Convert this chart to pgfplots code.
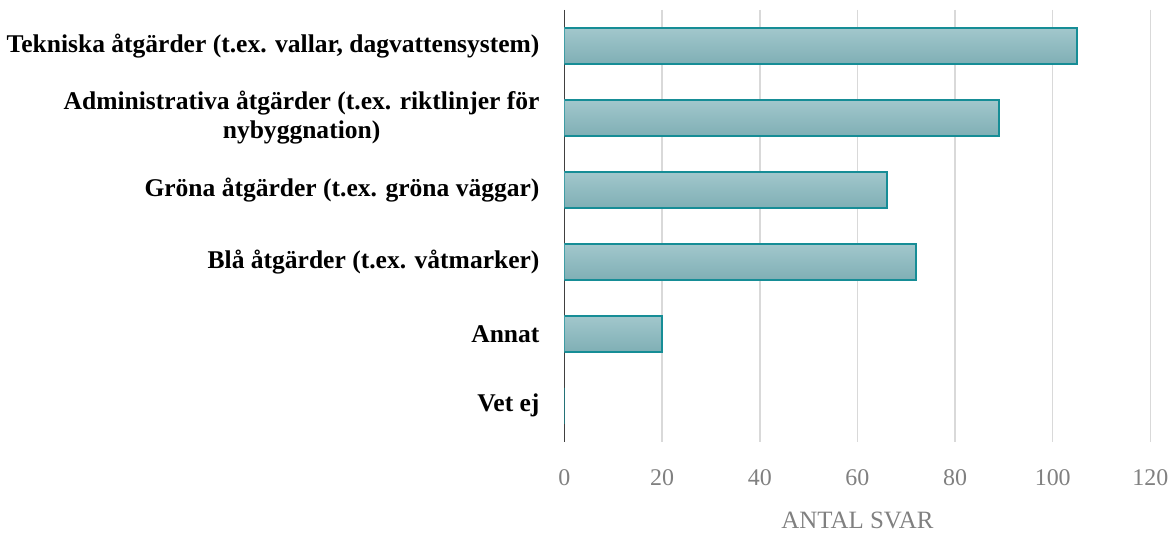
\documentclass[border=0pt]{standalone}
\usepackage{fontspec}
\setmainfont{Liberation Serif}
\usepackage{pgfplots}
\pgfplotsset{compat=1.18}
\usetikzlibrary{calc}

\definecolor{barTop}{HTML}{A2C7CC}
\definecolor{barBot}{HTML}{7FAFB5}
\definecolor{barEdge}{HTML}{168D96}
\definecolor{gridGray}{HTML}{D9D9D9}
\definecolor{tickGray}{HTML}{808080}

\pgfplotsset{tealbar/.style={xbar, bar width=0.5, bar shift=0pt, draw=barEdge,
    line width=0.8pt, top color=barTop, bottom color=barBot}}

\begin{document}
\begin{tikzpicture}
\begin{axis}[
    scale only axis,
    width=293.75pt, height=216.5pt,
    xmin=0, xmax=120,
    ymin=-0.5, ymax=5.5,
    y dir=reverse,
    xtick={0,20,...,120},
    ytick={0,...,5},
    yticklabels={
        {Tekniska åtgärder (t.ex. vallar, dagvattensystem)},
        {Administrativa åtgärder (t.ex. riktlinjer för\\nybyggnation)},
        {Gröna åtgärder (t.ex. gröna väggar)},
        {Blå åtgärder (t.ex. våtmarker)},
        {Annat},
        {Vet ej}},
    yticklabel style={font=\fontsize{12.8pt}{14.5pt}\selectfont\bfseries, align=center, xshift=-9pt},
    xticklabel style={font=\fontsize{12pt}{14pt}\selectfont, text=tickGray, yshift=-10.5pt},
    /pgf/number format/assume math mode=true,
    major tick length=0pt,
    axis x line*=bottom,
    axis y line*=left,
    x axis line style={draw=none},
    y axis line style={draw=black!75, line width=0.75pt, -},
    xmajorgrids=true,
    grid style={draw=gridGray, line width=0.75pt},
    xlabel={ANTAL SVAR},
    xlabel style={font=\fontsize{12.5pt}{14pt}\selectfont, text=tickGray, yshift=-6pt},
]
\addplot[tealbar] coordinates {(105,0)};
\addplot[tealbar] coordinates {(89,1)};
\addplot[tealbar] coordinates {(66,2)};
\addplot[tealbar] coordinates {(72,3)};
\addplot[tealbar] coordinates {(20,4)};
\addplot[tealbar] coordinates {(0,5)};
\end{axis}
\useasboundingbox ($(current axis.south west)+(-281.75pt,-43.5pt)$) rectangle ($(current axis.north east)+(12pt,5pt)$);
\end{tikzpicture}
\end{document}
